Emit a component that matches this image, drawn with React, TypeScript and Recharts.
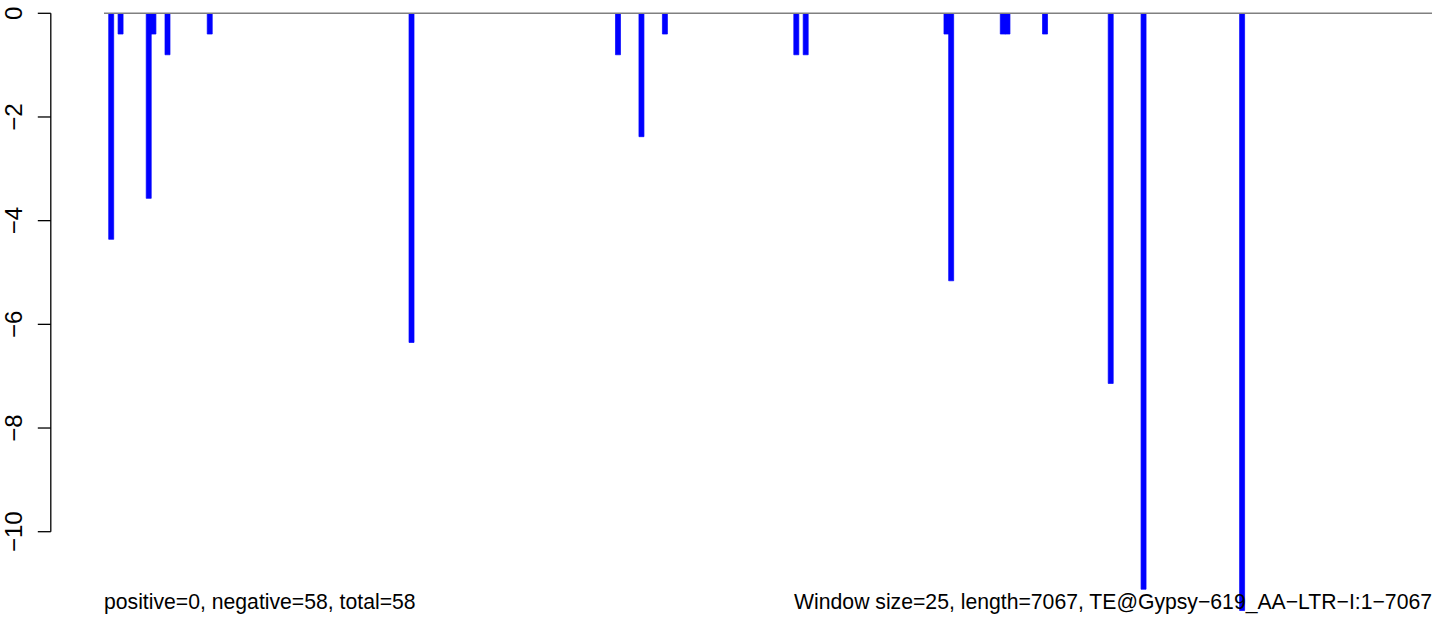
import React from "react";
import { BarChart, Bar, XAxis, YAxis, ReferenceLine } from "recharts";

// sliding-window counts along the TE (window = 25 bp)
const windowCount = 283;
const windowIndex = [1, 3, 9, 10, 13, 22, 65, 109, 114, 119, 147, 149, 179, 180, 191, 192, 200, 214, 221, 242];
const negativeDepth = [
  -4.36, -0.4, -3.57, -0.4, -0.8, -0.4, -6.35, -0.8, -2.38, -0.4,
  -0.8, -0.8, -0.4, -5.16, -0.4, -0.4, -0.4, -7.14, -11.11, -11.52,
];
const yTicks = [0, -2, -4, -6, -8, -10];
const leftNote = "positive=0, negative=58, total=58";
const rightNote = "Window size=25, length=7067, TE@Gypsy\u2212619_AA\u2212LTR\u2212I:1\u22127067";

const W = 1444;
const H = 619;
const AXIS_X = 50.8;
const PLOT_RIGHT = 1440;
const BARS_LEFT = 104;
const BARS_RIGHT = 1432;
const PX_PER_WIN = (BARS_RIGHT - BARS_LEFT) / windowCount;
const X_MIN = -(BARS_LEFT - AXIS_X) / PX_PER_WIN;
const X_MAX = X_MIN + (PLOT_RIGHT - AXIS_X) / PX_PER_WIN;
const Y_TOP = 13.3;
const PX_PER_UNIT = 51.84;
const Y_MIN = -11.6;
const PLOT_BOTTOM = Y_TOP + -Y_MIN * PX_PER_UNIT;

const FONT = "'Liberation Sans', Arial, Helvetica, sans-serif";

const data = windowIndex.map((w, i) => ({ pos: w + 0.5, value: negativeDepth[i] }));

const fmt = (v: number) => (v < 0 ? "\u2212" + Math.abs(v) : String(v));

const YTick = (props: any) => {
  const { y, payload } = props;
  return (
    <text
      transform={`translate(22, ${y}) rotate(-90)`}
      textAnchor="middle"
      fontSize={24}
      fontFamily={FONT}
      fill="#000"
    >
      {fmt(payload.value)}
    </text>
  );
};

export default function App() {
  return (
    <div style={{ position: "fixed", left: 0, top: 0, width: W, height: H, background: "#fff" }}>
      <BarChart
        width={W}
        height={H}
        data={data}
        margin={{ top: Y_TOP, right: W - PLOT_RIGHT, bottom: H - PLOT_BOTTOM, left: 0 }}
        barCategoryGap={0}
        barGap={0}
      >
        <XAxis type="number" dataKey="pos" domain={[X_MIN, X_MAX]} allowDataOverflow hide />
        <YAxis
          type="number"
          domain={[Y_MIN, 0]}
          ticks={yTicks}
          allowDataOverflow
          width={AXIS_X}
          axisLine={false}
          tickSize={13}
          tickLine={{ stroke: "#000", strokeWidth: 1.3 }}
          tick={<YTick />}
          interval={0}
        />
        <Bar
          dataKey="value"
          fill="#0000ff"
          stroke="#0000ff"
          strokeWidth={0.7}
          isAnimationActive={false}
        />
        <ReferenceLine
          segment={[{ x: 0, y: 0 }, { x: windowCount, y: 0 }]}
          stroke="#808080"
          strokeWidth={1.5}
        />
        <ReferenceLine
          segment={[{ x: X_MIN, y: 0 }, { x: X_MIN, y: -10 }]}
          stroke="#000"
          strokeWidth={1.3}
        />
      </BarChart>
      <svg
        width={W}
        height={H}
        style={{ position: "absolute", left: 0, top: 0, pointerEvents: "none" }}
      >
        <text x={BARS_LEFT} y={609} fontSize={21.2} fontFamily={FONT} fill="#000">
          {leftNote}
        </text>
        <text x={BARS_RIGHT} y={609} fontSize={21.2} fontFamily={FONT} fill="#000" textAnchor="end">
          {rightNote}
        </text>
      </svg>
    </div>
  );
}
